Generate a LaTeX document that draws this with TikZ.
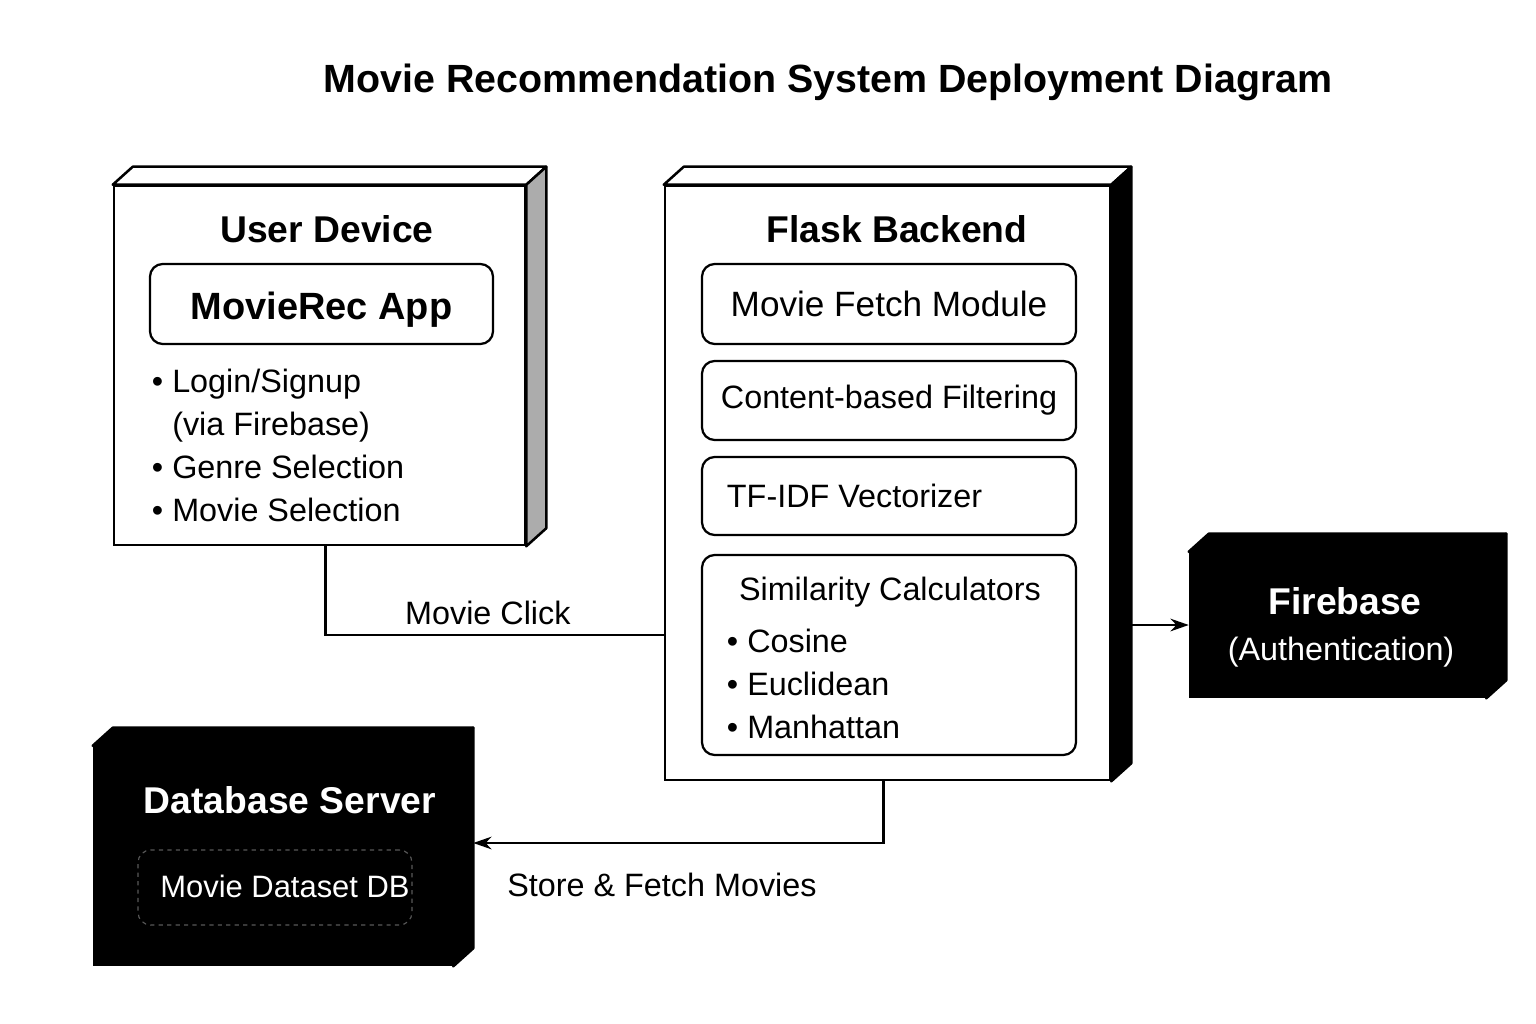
\documentclass[tikz,border=0pt]{standalone}
\usepackage{fontspec}
\setmainfont{Liberation Sans}
\usepackage{tikz}
\usetikzlibrary{arrows.meta, positioning, calc, fit}

\begin{document}
\begin{tikzpicture}[x=0.025cm, y=-0.025cm,
    nodebox/.style={draw, line width=1.8pt, fill=white, inner sep=0pt},
    darkbox/.style={draw, line width=1.8pt, fill=black, inner sep=0pt},
    modbox/.style={draw, line width=1.6pt, rounded corners=9pt, inner sep=0pt},
    heading/.style={font=\fontsize{26.5}{32}\selectfont\bfseries},
    body/.style={font=\fontsize{23}{30.5}\selectfont},
    link/.style={line width=1.6pt},
    arrow/.style={line width=1.6pt, -{Stealth[length=13pt, width=9pt]}}
  ]
  \useasboundingbox (0,0) rectangle (1536,1024);

  % Title
  \node[font=\fontsize{28}{34}\selectfont\bfseries] (title) at (828,82) {Movie Recommendation System Deployment Diagram};

  % Deployment nodes (front faces)
  \node[nodebox, fit={(114,186) (525,545)}] (ud) {};
  \node[nodebox, fit={(665,186) (1110,780)}] (fl) {};
  \node[darkbox, fit={(1190,553) (1485,697)}] (fb) {};
  \node[darkbox, fit={(94,747) (452,965)}] (db) {};

  % Top and side faces
  \foreach \n/\top/\side in {ud/white/gray!65, fl/white/black, fb/black/black, db/black/black} {
    \draw[line width=1.8pt, line join=round, fill=\top] (\n.north west) -- ++(20,-18) -- ($(\n.north east)+(20,-18)$) -- (\n.north east) -- cycle;
    \draw[line width=1.8pt, line join=round, fill=\side] (\n.north east) -- ++(20,-18) -- ($(\n.south east)+(20,-18)$) -- (\n.south east) -- cycle;
  }

  % User Device
  \node[heading] (udtitle) at (327,229) {User Device};
  \node[modbox, fit={(150,264) (493,344)}] (app) {};
  \node[font=\fontsize{27}{32}\selectfont\bfseries, yshift=-4pt] (apptext) at (app.center) {MovieRec App};
  \node[body, anchor=north west, align=left] (udlist) at (147,364) {\textbullet~Login/Signup\\ \phantom{\textbullet~}(via Firebase)\\ \textbullet~Genre Selection\\ \textbullet~Movie Selection};

  % Flask Backend
  \node[heading] (fltitle) at (897,229) {Flask Backend};
  \node[modbox, fit={(702,264) (1076,344)}] (fetch) {};
  \node[font=\fontsize{25}{30}\selectfont] (fetchtext) at (fetch.center) {Movie Fetch Module};
  \node[modbox, fit={(702,361) (1076,440)}] (cbf) {};
  \node[body] (cbftext) at (cbf.center) {Content-based Filtering};
  \node[modbox, fit={(702,457) (1076,535)}] (tfidf) {};
  \node[body, anchor=west] (tfidftext) at (722,496) {TF-IDF Vectorizer};
  \node[modbox, fit={(702,555) (1076,755)}] (sim) {};
  \node[body] (simtitle) at (890,592) {Similarity Calculators};
  \node[body, anchor=north west, align=left] (simlist) at (722,624) {\textbullet~Cosine\\ \textbullet~Euclidean\\ \textbullet~Manhattan};

  % Firebase
  \node[heading, white] (fbtitle) at (1345,601) {Firebase};
  \node[body, white] (fbnote) at (1341,652) {(Authentication)};

  % Database Server
  \node[heading, white] (dbtitle) at (290,800) {Database Server};
  \node[draw=white!35!black, dashed, line width=0.8pt, rounded corners=9pt, inner sep=0pt, fit={(138,850) (412,925)}] (dataset) {};
  \node[font=\fontsize{22}{28}\selectfont, white] (datasettext) at (285,886) {Movie Dataset DB};

  % Connectors
  \coordinate (flr) at ($(fl.north east)+(20,0)$);
  \draw[link] ($(ud.south)+(6,0)$) |- ($(fl.west)+(0,152)$) node[pos=0.74, above=3pt, body] {Movie Click};
  \draw[arrow] (flr |- fb.west) -- (fb.west);
  \draw[arrow] ($(fl.south)+(-4,0)$) |- ($(db.east)+(20,-13)$) node[pos=0.77, below=17pt, body] {Store \& Fetch Movies};
\end{tikzpicture}
\end{document}
